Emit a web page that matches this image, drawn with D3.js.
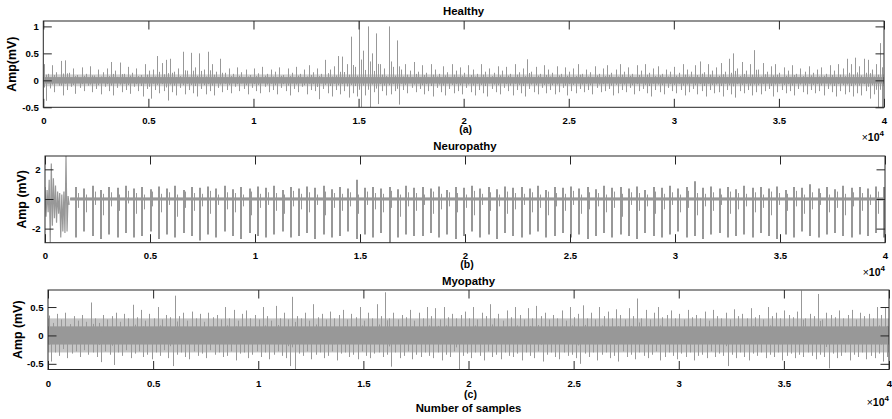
<!DOCTYPE html>
<html><head><meta charset="utf-8">
<script src="https://cdn.jsdelivr.net/npm/d3@7/dist/d3.min.js"></script>
<style>
html,body{margin:0;padding:0;background:#fff;}
svg text{font-family:"Liberation Sans",Arial,Helvetica,sans-serif;font-weight:bold;fill:#000;}
</style></head>
<body>
<svg id="chart" width="892" height="419"></svg>
<script>
// ---------------- DATA ----------------
const nSamples = 40000;
const binSize = 200; // samples per envelope bin
const xTickLabels = ["0","0.5","1","1.5","2","2.5","3","3.5","4"];
const healthyYTicks = [-0.5, 0, 0.5, 1];
const neuroYTicks = [-2, 0, 2];
const myoYTicks = [-0.5, 0, 0.5];
const titles = ["Healthy", "Neuropathy", "Myopathy"];
const captions = ["(a)", "(b)", "(c)"];
const yLabels = ["Amp(mV)", "Amp (mV)", "Amp (mV)"];
const xLabel = "Number of samples";

// Healthy: per-bin max / min amplitude (mV)
const healthyHi = [
0.30,0.12,0.28,0.15,0.36,0.37,0.14,0.22,0.10,0.24,
0.12,0.26,0.09,0.20,0.15,0.22,0.34,0.18,0.33,0.12,
0.25,0.14,0.22,0.10,0.30,0.18,0.20,0.45,0.32,0.38,
0.40,0.16,0.22,0.53,0.18,0.51,0.24,0.50,0.20,0.53,
0.30,0.16,0.40,0.14,0.22,0.12,0.24,0.15,0.20,0.10,
0.22,0.13,0.25,0.12,0.20,0.16,0.24,0.10,0.22,0.14,
0.25,0.12,0.20,0.28,0.15,0.22,0.12,0.38,0.20,0.26,
0.45,0.44,0.30,0.81,0.25,1.10,0.55,1.00,0.50,0.87,
0.30,0.22,1.00,0.25,0.74,0.20,0.30,0.18,0.34,0.16,
0.28,0.14,0.30,0.20,0.12,0.26,0.15,0.30,0.18,0.24,
0.14,0.28,0.20,0.12,0.30,0.16,0.22,0.14,0.26,0.18,
0.25,0.12,0.30,0.15,0.22,0.39,0.16,0.25,0.12,0.28,
0.20,0.14,0.26,0.12,0.24,0.16,0.22,0.30,0.12,0.20,
0.15,0.26,0.12,0.22,0.28,0.14,0.20,0.30,0.16,0.24,
0.12,0.28,0.18,0.30,0.14,0.22,0.26,0.12,0.20,0.16,
0.25,0.14,0.30,0.20,0.16,0.28,0.35,0.15,0.30,0.18,
0.24,0.32,0.16,0.40,0.50,0.22,0.34,0.18,0.30,0.56,
0.20,0.32,0.16,0.26,0.30,0.14,0.24,0.18,0.28,0.12,
0.22,0.16,0.26,0.14,0.20,0.24,0.12,0.28,0.18,0.30,
0.22,0.40,0.30,0.42,0.26,0.40,0.38,0.20,0.30,0.69];
const healthyLo = [
-0.38,-0.15,-0.22,-0.10,-0.28,-0.18,-0.12,-0.25,-0.14,-0.20,
-0.10,-0.22,-0.16,-0.26,-0.12,-0.20,-0.28,-0.14,-0.22,-0.18,
-0.25,-0.12,-0.20,-0.30,-0.16,-0.34,-0.18,-0.24,-0.20,-0.375,
-0.22,-0.28,-0.14,-0.26,-0.18,-0.24,-0.30,-0.16,-0.26,-0.20,
-0.28,-0.14,-0.22,-0.18,-0.24,-0.12,-0.20,-0.16,-0.26,-0.14,
-0.20,-0.24,-0.12,-0.22,-0.18,-0.26,-0.14,-0.20,-0.28,-0.16,
-0.22,-0.12,-0.26,-0.18,-0.20,-0.35,-0.16,-0.24,-0.30,-0.18,
-0.26,-0.20,-0.32,-0.24,-0.30,-0.50,-0.28,-0.50,-0.22,-0.44,
-0.20,-0.28,-0.26,-0.20,-0.45,-0.18,-0.24,-0.14,-0.22,-0.16,
-0.26,-0.20,-0.30,-0.14,-0.22,-0.28,-0.16,-0.24,-0.20,-0.26,
-0.14,-0.22,-0.28,-0.18,-0.24,-0.30,-0.16,-0.22,-0.26,-0.14,
-0.20,-0.28,-0.18,-0.24,-0.30,-0.16,-0.22,-0.26,-0.14,-0.24,
-0.18,-0.26,-0.22,-0.14,-0.28,-0.20,-0.24,-0.16,-0.22,-0.18,
-0.26,-0.14,-0.22,-0.20,-0.16,-0.28,-0.24,-0.18,-0.22,-0.14,
-0.26,-0.20,-0.16,-0.24,-0.30,-0.18,-0.22,-0.26,-0.14,-0.20,
-0.24,-0.18,-0.28,-0.22,-0.16,-0.26,-0.20,-0.30,-0.18,-0.24,
-0.22,-0.30,-0.18,-0.26,-0.32,-0.20,-0.24,-0.18,-0.28,-0.22,
-0.26,-0.20,-0.16,-0.30,-0.22,-0.18,-0.24,-0.20,-0.28,-0.16,
-0.22,-0.26,-0.18,-0.24,-0.20,-0.28,-0.16,-0.22,-0.30,-0.20,
-0.26,-0.22,-0.30,-0.24,-0.28,-0.20,-0.34,-0.26,-0.50,-0.50];
const healthyCore = [0.06, 0.11]; // dense background activity: solid / sparse half-widths (mV)

// Neuropathy: initial burst (every 50 samples), then MUAP spikes
const neuroBurst = [0.8,-1.2,0.6,-0.9,1.3,-2.95,2.4,-1.8,1.4,-1.3,0.9,-1.6,0.5,-1.0,0.4,-2.6,0.3,-2.2,0.5,-2.3,2.9,-2.2,0.2,-0.4];
const neuroPos = [
1480,1870,2290,2680,3070,3460,3850,4260,4640,5030,
5430,5820,6200,6600,6990,7380,7780,8160,8560,8950,
9340,9740,10130,10520,10910,11310,11700,12090,12490,12880,
13270,13660,14060,14450,14840,15240,15620,16020,16410,16800,
17200,17590,17980,18370,18770,19160,19550,19950,20340,20730,
21120,21520,21910,22300,22700,23090,23480,23870,24270,24660,
25050,25450,25840,26230,26620,27020,27410,27800,28200,28590,
28980,29370,29770,30160,30550,30950,31340,31730,32120,32520,
32910,33300,33700,34090,34480,34870,35270,35660,36050,36450,
36840,37230,37620,38020,38410,38800,39200,39590,39950];
const neuroHi = [
0.8,0.7,0.9,0.6,0.8,0.75,0.9,0.7,0.8,0.65,
0.85,0.7,0.9,0.6,0.8,0.75,0.85,0.7,0.9,0.65,
0.8,0.7,0.85,0.75,0.9,0.6,0.8,0.7,0.85,0.75,
0.9,0.65,0.8,0.7,1.3,0.75,0.8,0.7,0.8,0.65,
0.9,0.75,0.8,0.7,0.85,0.6,0.8,0.75,0.9,0.7,
0.8,0.65,0.85,0.75,0.8,0.7,0.9,0.6,0.8,0.75,
0.85,0.7,0.8,0.65,0.9,0.75,0.8,0.7,0.85,0.6,
0.8,0.75,0.9,0.7,0.8,1.2,0.75,0.85,0.7,0.8,
0.65,0.9,0.75,0.8,0.7,0.85,0.6,0.8,0.75,1.0,
0.7,0.8,0.65,0.9,0.75,0.8,0.7,0.85,0.8];
const neuroLo = [
-2.6,-2.2,-2.5,-2.7,-2.4,-2.6,-2.3,-2.6,-2.5,-2.2,
-2.7,-2.4,-2.6,-2.3,-2.5,-2.8,-2.4,-2.6,-2.2,-2.5,
-2.7,-2.3,-2.5,-2.6,-2.4,-2.2,-2.6,-2.5,-2.3,-2.7,
-2.4,-2.6,-2.5,-2.2,-2.7,-2.4,-2.6,-2.3,-3.0,-2.6,
-2.4,-2.5,-2.5,-2.3,-2.6,-2.4,-2.7,-2.5,-2.2,-2.6,
-2.4,-2.7,-2.3,-2.5,-2.6,-2.4,-2.2,-2.6,-2.5,-2.3,
-2.6,-2.4,-2.7,-2.5,-2.3,-2.6,-2.4,-2.5,-2.7,-2.3,
-2.5,-2.6,-2.4,-2.2,-2.6,-2.5,-2.7,-2.4,-2.3,-2.6,
-2.5,-2.4,-2.6,-2.3,-2.5,-2.7,-2.4,-2.6,-2.2,-2.5,
-2.6,-2.4,-2.3,-2.5,-2.6,-2.4,-2.5,-2.3,-2.6];
const neuroMinorHi = [
0.4,0.3,0.5,0.35,0.45,0.3,0.55,0.4,0.3,0.5,
0.35,0.45,0.3,0.5,0.4,0.35,0.55,0.3,0.45,0.4,
0.3,0.5,0.35,0.45,0.4,0.3,0.55,0.35,0.45,0.3,
0.5,0.4,0.35,0.45,0.3,0.5,0.4,0.35,0.55,0.3,
0.45,0.4,0.3,0.5,0.35,0.45,0.4,0.3,0.55,0.35,
0.45,0.3,0.5,0.4,0.35,0.45,0.3,0.5,0.4,0.35,
0.55,0.3,0.45,0.4,0.3,0.5,0.35,0.45,0.4,0.3,
0.5,0.35,0.45,0.3,0.55,0.4,0.35,0.45,0.3,0.5,
0.4,0.35,0.45,0.3,0.5,0.4,0.35,0.55,0.3,0.45,
0.4,0.3,0.5,0.35,0.45,0.4,0.3,0.5,0.35];
const neuroMinorLo = [
-0.6,-0.9,-0.4,-1.1,-0.5,-0.8,-0.3,-1.0,-0.7,-0.5,
-0.9,-0.4,-1.2,-0.6,-0.8,-0.5,-1.0,-0.4,-0.7,-0.9,
-0.5,-1.1,-0.6,-0.4,-0.8,-1.0,-0.5,-0.7,-0.9,-0.4,
-1.1,-0.6,-0.8,-0.5,-1.0,-0.4,-0.7,-0.9,-0.6,-1.2,
-0.5,-0.8,-0.4,-1.0,-0.7,-0.5,-0.9,-0.6,-1.1,-0.4,
-0.8,-0.5,-1.0,-0.7,-0.4,-0.9,-0.6,-1.1,-0.5,-0.8,
-0.4,-1.0,-0.7,-0.5,-0.9,-0.6,-1.2,-0.4,-0.8,-0.5,
-1.0,-0.7,-0.4,-0.9,-0.6,-1.1,-0.5,-0.8,-0.4,-1.0,
-0.7,-0.5,-0.9,-0.6,-1.1,-0.4,-0.8,-0.5,-1.0,-0.7,
-0.4,-0.9,-0.6,-1.1,-0.5,-0.8,-0.4,-1.0,-0.6];
const neuroCore = [0.09, 0.09]; // baseline noise half-width (mV)

// Myopathy: per-bin max / min amplitude (mV)
const myoHi = [
0.35,0.22,0.38,0.28,0.40,0.20,0.34,0.26,0.36,0.24,
0.58,0.30,0.22,0.36,0.28,0.34,0.40,0.24,0.38,0.30,
0.54,0.32,0.45,0.26,0.38,0.30,0.50,0.28,0.36,0.32,
0.70,0.34,0.40,0.26,0.42,0.30,0.38,0.24,0.40,0.32,
0.36,0.28,0.50,0.30,0.45,0.26,0.38,0.44,0.30,0.36,
0.28,0.50,0.34,0.26,0.52,0.30,0.40,0.28,0.68,0.34,
0.30,0.40,0.26,0.55,0.32,0.38,0.28,0.42,0.30,0.36,
0.45,0.28,0.38,0.32,0.50,0.26,0.40,0.30,0.55,0.34,
0.76,0.30,0.40,0.28,0.36,0.32,0.45,0.26,0.40,0.30,
0.50,0.34,0.48,0.28,0.50,0.32,0.38,0.30,0.36,0.42,
0.30,0.50,0.28,0.40,0.34,0.55,0.30,0.38,0.26,0.44,
0.32,0.50,0.36,0.28,0.48,0.30,0.52,0.34,0.40,0.28,
0.36,0.30,0.44,0.26,0.50,0.32,0.38,0.53,0.30,0.40,
0.28,0.50,0.34,0.42,0.30,0.46,0.36,0.28,0.48,0.34,
0.65,0.30,0.45,0.28,0.40,0.50,0.32,0.36,0.44,0.30,
0.38,0.28,0.45,0.32,0.36,0.30,0.42,0.26,0.45,0.34,
0.30,0.40,0.28,0.46,0.34,0.38,0.30,0.48,0.32,0.36,
0.28,0.50,0.34,0.40,0.30,0.44,0.36,0.32,0.42,0.79,
0.30,0.38,0.34,0.73,0.28,0.40,0.36,0.32,0.44,0.30,
0.36,0.45,0.28,0.40,0.34,0.38,0.30,0.50,0.36,0.48];
const myoLo = [
-0.46,-0.30,-0.36,-0.24,-0.40,-0.32,-0.28,-0.38,-0.26,-0.34,
-0.30,-0.38,-0.47,-0.28,-0.34,-0.52,-0.30,-0.36,-0.26,-0.40,
-0.32,-0.28,-0.38,-0.34,-0.42,-0.30,-0.36,-0.26,-0.40,-0.54,
-0.34,-0.30,-0.38,-0.42,-0.28,-0.36,-0.32,-0.40,-0.26,-0.34,
-0.30,-0.38,-0.36,-0.28,-0.44,-0.32,-0.30,-0.40,-0.34,-0.28,
-0.38,-0.30,-0.42,-0.34,-0.28,-0.36,-0.40,-0.54,-0.60,-0.32,
-0.36,-0.28,-0.42,-0.34,-0.30,-0.40,-0.36,-0.28,-0.44,-0.32,
-0.30,-0.38,-0.34,-0.42,-0.28,-0.36,-0.40,-0.32,-0.30,-0.38,
-0.34,-0.55,-0.30,-0.40,-0.36,-0.28,-0.42,-0.34,-0.38,-0.30,
-0.36,-0.40,-0.30,-0.44,-0.34,-0.38,-0.28,-0.60,-0.36,-0.32,
-0.40,-0.30,-0.36,-0.44,-0.28,-0.38,-0.34,-0.42,-0.30,-0.36,
-0.38,-0.32,-0.44,-0.30,-0.36,-0.40,-0.28,-0.46,-0.34,-0.30,
-0.38,-0.42,-0.30,-0.36,-0.34,-0.40,-0.50,-0.32,-0.38,-0.30,
-0.44,-0.34,-0.30,-0.40,-0.36,-0.46,-0.28,-0.38,-0.34,-0.42,
-0.30,-0.36,-0.40,-0.34,-0.28,-0.44,-0.38,-0.30,-0.36,-0.42,
-0.32,-0.38,-0.30,-0.44,-0.36,-0.34,-0.40,-0.28,-0.38,-0.32,
-0.36,-0.54,-0.34,-0.40,-0.30,-0.38,-0.44,-0.32,-0.36,-0.30,
-0.40,-0.34,-0.38,-0.30,-0.44,-0.36,-0.32,-0.40,-0.34,-0.38,
-0.30,-0.36,-0.42,-0.34,-0.38,-0.58,-0.32,-0.40,-0.36,-0.30,
-0.44,-0.34,-0.38,-0.30,-0.42,-0.36,-0.40,-0.32,-0.46,-0.38];
const myoCore = [0.16, 0.30]; // dense interference pattern: solid / sparse half-widths (mV)

// ---------------- BUILD MARK LISTS ----------------
// each mark: [sample, from value, to value, width]
function envelopeMarks(hi, lo) {
  const m = [];
  const n = Math.min(hi.length, lo.length);
  for (let i = 0; i < n; i++) {
    m.push([i * binSize + binSize * 0.25, lo[i] * 0.35, hi[i], 1]);
    m.push([i * binSize + binSize * 0.75, hi[i] * 0.35, lo[i], 1]);
  }
  return m;
}
function neuroMarks() {
  const m = [];
  const n = Math.min(neuroPos.length, neuroHi.length, neuroLo.length);
  for (let i = 0; i < n; i++) {
    m.push([neuroPos[i], neuroLo[i], neuroHi[i], 2]);
    if (i < neuroMinorHi.length && neuroPos[i] + 110 < nSamples)
      m.push([neuroPos[i] + 110, neuroMinorLo[i], neuroMinorHi[i], 1]);
  }
  return m;
}
const burstPts = neuroBurst.map((v, i) => [i * 50, v]);

// ---------------- LAYOUT ----------------
const panels = [
  {left: 43.3, right: 884, top: 21, bottom: 107.3, yDomain: [-0.5, 1.1], yTicks: healthyYTicks,
   marks: envelopeMarks(healthyHi, healthyLo), core: healthyCore, coreOp: 0.45, titleY: 15, tickPad: 10.3, capY: 132.5, expY: 141, yLabX: 16},
  {left: 45, right: 885, top: 156, bottom: 242.7, yDomain: [-2.95, 2.9], yTicks: neuroYTicks,
   marks: neuroMarks(), burst: burstPts, core: neuroCore, coreOp: 1, titleY: 149.5, tickPad: 9.8, capY: 268, expY: 276, yLabX: 26},
  {left: 48, right: 889, top: 290, bottom: 369.5, yDomain: [-0.6, 0.8], yTicks: myoYTicks,
   marks: envelopeMarks(myoHi, myoLo), core: myoCore, coreOp: 0.55, titleY: 285, tickPad: 10.8, capY: 397.5, expY: 406, yLabX: 21.5}
];

const svg = d3.select("#chart");
const sigColor = "#989898";
const axColor = "#262626";
const tickLen = 8.5;
const snap = (v, w) => (w % 2 === 1 ? Math.round(v - 0.5) + 0.5 : Math.round(v));

panels.forEach((P, k) => {
  const x = d3.scaleLinear().domain([0, nSamples]).range([P.left, P.right]);
  const y = d3.scaleLinear().domain(P.yDomain).range([P.bottom, P.top]);
  const g = svg.append("g");

  const clipId = "clip" + k;
  g.append("clipPath").attr("id", clipId).append("rect")
    .attr("x", P.left).attr("y", P.top).attr("width", P.right - P.left).attr("height", P.bottom - P.top);

  const plot = g.append("g").attr("clip-path", `url(#${clipId})`);
  const coreStart = P.burst ? P.burst.length * 50 : 0;
  // sparse outer layer, then solid inner layer
  [[P.core[1], P.coreOp], [P.core[0], 1]].forEach(([hw, op]) => {
    plot.append("rect")
      .attr("x", x(coreStart)).attr("width", x(nSamples) - x(coreStart))
      .attr("y", y(hw)).attr("height", y(-hw) - y(hw))
      .attr("fill", sigColor).attr("fill-opacity", op);
  });
  plot.selectAll("line.sig").data(P.marks).join("line").attr("class", "sig")
    .attr("x1", d => snap(x(d[0]), d[3])).attr("x2", d => snap(x(d[0]), d[3]))
    .attr("y1", d => y(d[1])).attr("y2", d => y(d[2]))
    .attr("stroke", sigColor).attr("stroke-width", d => d[3]);
  if (P.burst) {
    plot.append("path").datum(P.burst)
      .attr("d", d3.line().x(d => x(d[0])).y(d => y(d[1])))
      .attr("fill", "none").attr("stroke", sigColor).attr("stroke-width", 1.2);
  }

  const xTickVals = xTickLabels.map(s => +s * 1e4);
  const fmtX = d => xTickLabels[xTickVals.indexOf(d)];

  const axB = g.append("g").attr("transform", `translate(0,${P.bottom})`)
    .call(d3.axisBottom(x).tickValues(xTickVals).tickFormat(fmtX).tickSizeInner(-tickLen).tickSizeOuter(0).tickPadding(P.tickPad));
  const axT = g.append("g").attr("transform", `translate(0,${P.top})`)
    .call(d3.axisTop(x).tickValues(xTickVals).tickFormat("").tickSizeInner(-tickLen).tickSizeOuter(0));
  const axL = g.append("g").attr("transform", `translate(${P.left},0)`)
    .call(d3.axisLeft(y).tickValues(P.yTicks).tickFormat(d => String(d)).tickSizeInner(-tickLen).tickSizeOuter(0).tickPadding(4.5));
  const axR = g.append("g").attr("transform", `translate(${P.right},0)`)
    .call(d3.axisRight(y).tickValues(P.yTicks).tickFormat("").tickSizeInner(-tickLen).tickSizeOuter(0));
  [axB, axT, axL, axR].forEach(a => {
    a.select(".domain").remove();
    a.selectAll("line").attr("stroke", axColor).attr("stroke-width", 1);
    a.selectAll("text").attr("font-size", "9.6px").attr("font-family", null).attr("fill", "#000");
  });
  g.append("rect").attr("x", P.left).attr("y", P.top)
    .attr("width", P.right - P.left).attr("height", P.bottom - P.top)
    .attr("fill", "none").attr("stroke", axColor).attr("stroke-width", 1);

  const cx = (P.left + P.right) / 2;
  g.append("text").attr("x", cx).attr("y", P.titleY).attr("text-anchor", "middle")
    .attr("font-size", "11.4px").text(titles[k]);
  g.append("text").attr("x", cx + 2).attr("y", P.capY).attr("text-anchor", "middle")
    .attr("font-size", "10.5px").text(captions[k]);
  const ex = g.append("text").attr("x", P.right).attr("y", P.expY).attr("text-anchor", "end")
    .attr("font-size", "10.5px").attr("font-weight", "normal");
  ex.append("tspan").text("\u00d7").attr("font-weight", "normal");
  ex.append("tspan").text("10").attr("font-weight", "bold");
  ex.append("tspan").attr("dy", "-5").attr("font-size", "8px").attr("font-weight", "bold").text("4");

  g.append("text").attr("transform", `translate(${P.yLabX},${(P.top + P.bottom) / 2}) rotate(-90)`)
    .attr("text-anchor", "middle").attr("font-size", "12.4px").text(yLabels[k]);

  if (k === 2) {
    g.append("text").attr("x", cx).attr("y", 411.5).attr("text-anchor", "middle")
      .attr("font-size", "11.4px").text(xLabel);
  }
});
</script>
</body></html>
